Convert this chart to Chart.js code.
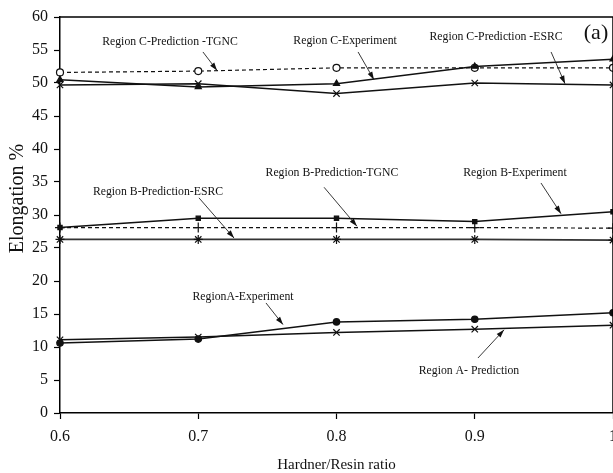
<!DOCTYPE html>
<html><head><meta charset="utf-8">
<script src="https://cdn.jsdelivr.net/npm/chart.js@4/dist/chart.umd.min.js"></script>
<style>
html,body{margin:0;padding:0;background:#fff;overflow:hidden;width:613px;height:473px}
#wrap{position:relative;width:640px;height:473px}
</style></head>
<body><div id="wrap"><canvas id="c"></canvas></div>
<script>
// ---- data ----
const ratios = [0.6, 0.7, 0.8, 0.9, 1.0];
const xTickLabels = ['0.6', '0.7', '0.8', '0.9', '1'];
const regionCExperiment = [50.5, 49.4, 49.9, 52.5, 53.6];
const regionCPredTGNC   = [51.6, 51.8, 52.3, 52.3, 52.3];
const regionCPredESRC   = [49.7, 49.9, 48.4, 50.0, 49.7];
const regionBExperiment = [28.1, 29.5, 29.5, 29.0, 30.5];
const regionBPredTGNC   = [28.1, 28.1, 28.1, 28.1, 28.0];
const regionBPredESRC   = [26.3, 26.3, 26.3, 26.3, 26.2];
const regionAExperiment = [10.6, 11.2, 13.8, 14.2, 15.2];
const regionAPrediction = [11.1, 11.5, 12.2, 12.7, 13.3];

// annotation labels (text anchor and arrow in data units)
const annotations = [
  {text:'Region C-Prediction -TGNC', tx:0.6796, ty:56.36, ax1:0.7034, ay1:54.7, ax2:0.7136, ay2:51.9},
  {text:'Region C-Experiment',       tx:0.8062, ty:56.5,  ax1:0.8156, ay1:54.7, ax2:0.8271, ay2:50.5},
  {text:'Region C-Prediction -ESRC', tx:0.9154, ty:57.0,  ax1:0.9552, ay1:54.7, ax2:0.9653, ay2:49.9},
  {text:'Region B-Prediction-ESRC',  tx:0.6709, ty:33.5,  ax1:0.7005, ay1:32.6, ax2:0.7259, ay2:26.5},
  {text:'Region B-Prediction-TGNC',  tx:0.7967, ty:36.4,  ax1:0.7910, ay1:34.2, ax2:0.8148, ay2:28.3},
  {text:'Region B-Experiment',       tx:0.9291, ty:36.4,  ax1:0.9479, ay1:34.85,ax2:0.9624, ay2:30.2},
  {text:'RegionA-Experiment',        tx:0.7324, ty:17.6,  ax1:0.7490, ay1:16.67,ax2:0.7613, ay2:13.4},
  {text:'Region A- Prediction',      tx:0.8958, ty:6.5,   ax1:0.9023, ay1:8.33, ax2:0.9212, ay2:12.6}
];
const panelLabel = {text:'(a)', tx:0.9877, ty:57.6};
const yTitle = {text:'Elongation %', ty:32.5};

const FONT = "'Liberation Serif', 'Times New Roman', serif";
const pts = arr => arr.map((v, i) => ({x: ratios[i], y: v}));

function ds(label, arr, opts) {
  return Object.assign({
    label, data: pts(arr), borderColor:'#111', backgroundColor:'#111',
    borderWidth:1.5, pointBorderColor:'#111', pointBackgroundColor:'#111',
    pointBorderWidth:1.2, pointRadius:3.5, tension:0, clip:false, fill:false
  }, opts);
}

const datasets = [
  ds('Region C-Experiment', regionCExperiment, {pointStyle:'triangle', pointRadius:3.5}),
  ds('Region C-Prediction -TGNC', regionCPredTGNC, {pointStyle:'circle', pointRadius:3.5, pointBackgroundColor:'#fff', borderDash:[4,3], borderWidth:1.2}),
  ds('Region C-Prediction -ESRC', regionCPredESRC, {pointStyle:'crossRot', pointRadius:4.5}),
  ds('Region B-Experiment', regionBExperiment, {pointStyle:'rect', pointRadius:3}),
  ds('Region B-Prediction-TGNC', regionBPredTGNC, {pointStyle:'cross', pointRadius:5, borderDash:[4,3], borderWidth:1.2}),
  ds('Region B-Prediction-ESRC', regionBPredESRC, {pointStyle:'star', pointRadius:4.5, borderColor:'#333', borderWidth:1.8}),
  ds('RegionA-Experiment', regionAExperiment, {pointStyle:'circle', pointRadius:3.2}),
  ds('Region A- Prediction', regionAPrediction, {pointStyle:'crossRot', pointRadius:4.5})
];

const extras = {
  id:'extras',
  afterDatasetsDraw(chart) {
    const {ctx, chartArea:a, scales:{x, y}} = chart;
    ctx.save();
    ctx.strokeStyle = '#000'; ctx.lineWidth = 1.5;
    ctx.beginPath();
    ctx.moveTo(a.left, a.top); ctx.lineTo(a.right, a.top); ctx.lineTo(a.right, a.bottom);
    ctx.stroke();
    // annotations
    ctx.fillStyle = '#111'; ctx.strokeStyle = '#222'; ctx.lineWidth = 0.9;
    ctx.textAlign = 'center'; ctx.textBaseline = 'middle';
    annotations.forEach(n => {
      const px = x.getPixelForValue(n.tx), py = y.getPixelForValue(n.ty);
      ctx.save(); ctx.translate(px, py); ctx.scale(0.87, 1);
      ctx.font = '13.5px ' + FONT; ctx.fillText(n.text, 0, 0); ctx.restore();
      const x1 = x.getPixelForValue(n.ax1), y1 = y.getPixelForValue(n.ay1);
      const x2 = x.getPixelForValue(n.ax2), y2 = y.getPixelForValue(n.ay2);
      ctx.beginPath(); ctx.moveTo(x1, y1); ctx.lineTo(x2, y2); ctx.stroke();
      const ang = Math.atan2(y2 - y1, x2 - x1), L = 8, W = 2.6;
      ctx.beginPath();
      ctx.moveTo(x2, y2);
      ctx.lineTo(x2 - L*Math.cos(ang) + W*Math.sin(ang), y2 - L*Math.sin(ang) - W*Math.cos(ang));
      ctx.lineTo(x2 - L*Math.cos(ang) - W*Math.sin(ang), y2 - L*Math.sin(ang) + W*Math.cos(ang));
      ctx.closePath(); ctx.fill();
    });
    ctx.font = '22px ' + FONT;
    ctx.fillText(panelLabel.text, x.getPixelForValue(panelLabel.tx), y.getPixelForValue(panelLabel.ty));
    // y axis title
    ctx.save();
    ctx.translate(18, y.getPixelForValue(yTitle.ty));
    ctx.rotate(-Math.PI / 2);
    ctx.font = '20px ' + FONT;
    ctx.fillText(yTitle.text, 0, 0);
    ctx.restore();
    ctx.restore();
  }
};

new Chart(document.getElementById('c'), {
  type:'line',
  data:{datasets},
  plugins:[extras],
  options:{
    responsive:true, maintainAspectRatio:false, animation:false,
    layout:{padding:{top:17, right:27, left:0, bottom:0}},
    plugins:{legend:{display:false}, tooltip:{enabled:false}},
    elements:{line:{borderCapStyle:'butt'}},
    scales:{
      x:{
        type:'linear', min:0.6, max:1.0,
        afterBuildTicks(s){ s.ticks = ratios.map(v => ({value:v})); },
        afterFit(s){ s.height = 60; },
        ticks:{color:'#111', font:{family:FONT, size:16}, padding:8, maxRotation:0,
          callback:(v) => { const i = ratios.findIndex(r => Math.abs(r - v) < 1e-9); return i >= 0 ? xTickLabels[i] : ''; }},
        grid:{display:true, drawOnChartArea:false, drawTicks:true, tickLength:6, tickColor:'#000', tickWidth:1.2},
        border:{display:true, color:'#000', width:1.5},
        title:{display:true, text:'Hardner/Resin ratio', color:'#111', font:{family:FONT, size:15}, padding:{top:0, bottom:-1}}
      },
      y:{
        min:0, max:60,
        afterFit(s){ s.width = 60; },
        ticks:{stepSize:5, color:'#111', font:{family:FONT, size:16}, padding:6},
        grid:{display:true, drawOnChartArea:false, drawTicks:true, tickLength:6, tickColor:'#000', tickWidth:1.2},
        border:{display:true, color:'#000', width:1.5},
        title:{display:false}
      }
    }
  }
});
</script></body></html>
